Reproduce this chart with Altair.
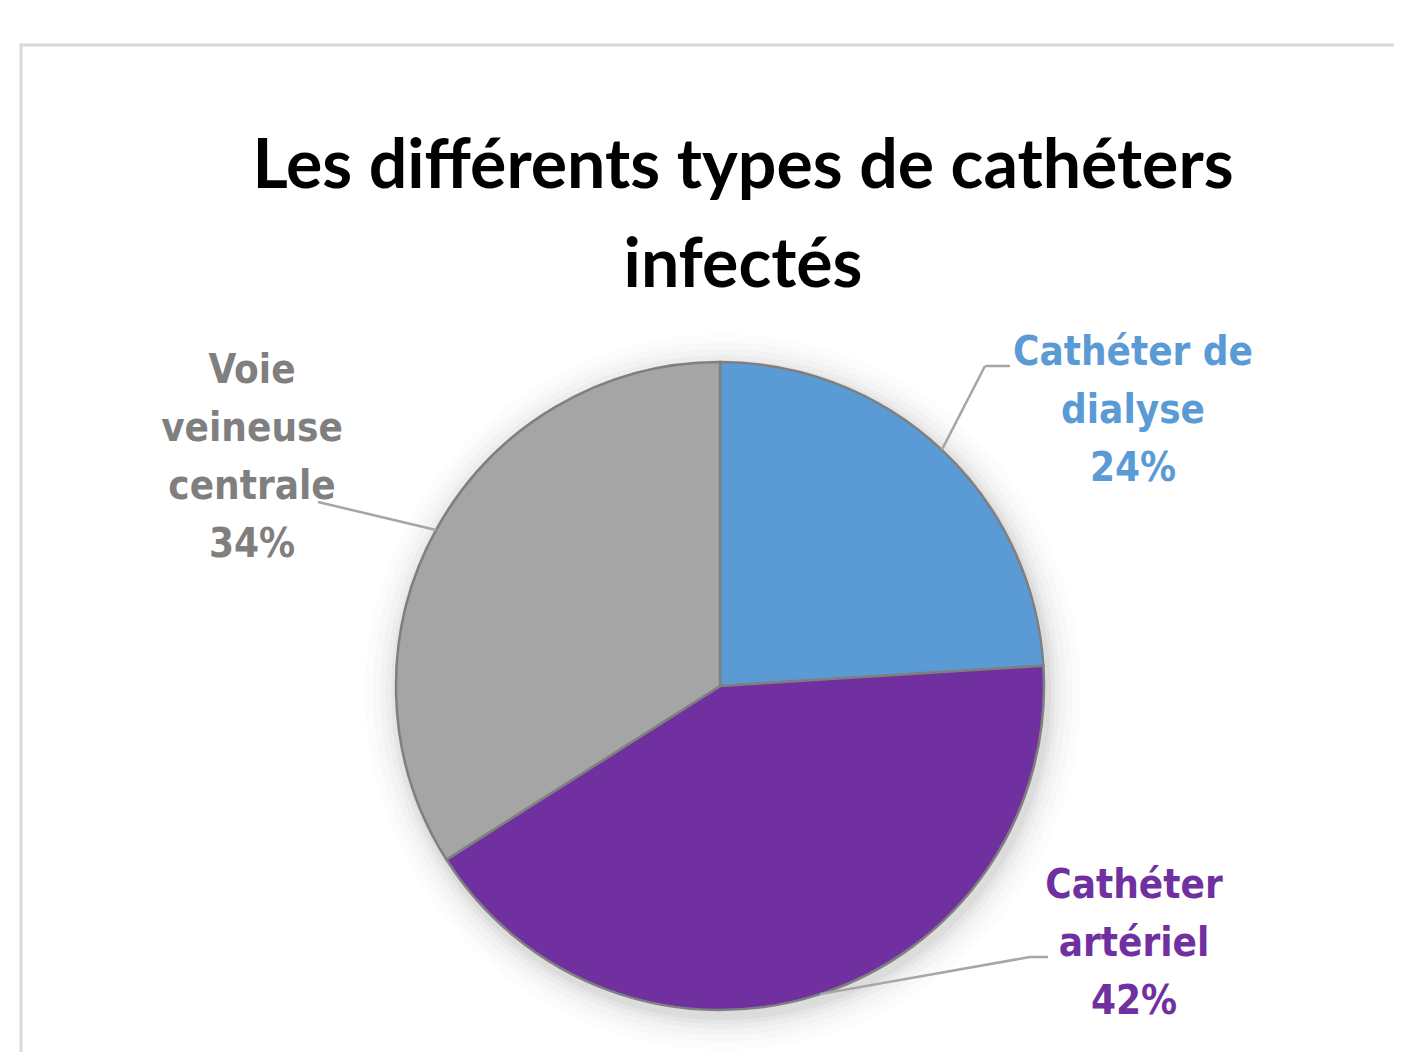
import altair as alt
import pandas as pd

# ---- data ----
categories = ["Cathéter de dialyse", "Cathéter artériel", "Voie veineuse centrale"]
values = [24, 42, 34]
label_lines = ["Cathéter de\ndialyse", "Cathéter\nartériel", "Voie\nveineuse\ncentrale"]
title_text = "Les différents types de cathéters\ninfectés"

# ---- styles ----
slice_colors = ["#5B9BD5", "#7030A0", "#A5A5A5"]
label_colors = ["#5B9BD5", "#7030A0", "#7F7F7F"]
TITLE_FONT = "Lato, DejaVu Sans Condensed, sans-serif"
LABEL_FONT = "DejaVu Sans Condensed, Tahoma, Noto Sans, sans-serif"

# ---- layout (pixels, relative to the pie centre) ----
CX, CY, R = 712, 678, 324
W, H = 1386, 1044
label_off = {"Cathéter de dialyse": (413, -321), "Cathéter artériel": (414, 212), "Voie veineuse centrale": (-468, -303)}
elbow_off = {"Cathéter de dialyse": (265, -320), "Cathéter artériel": (310, 271), "Voie veineuse centrale": (-402, -184)}
end_off = {"Cathéter de dialyse": (290, -320), "Cathéter artériel": (328, 271), "Voie veineuse centrale": (-402, -184)}

df = pd.DataFrame({
    "categorie": categories,
    "valeur": values,
    "ordre": list(range(len(categories))),
    "lignes": label_lines,
})
df["lx"] = [CX + label_off[c][0] for c in categories]
df["ly"] = [CY + label_off[c][1] for c in categories]
df["bx"] = [CX + elbow_off[c][0] for c in categories]
df["by"] = [CY + elbow_off[c][1] for c in categories]
df["nx"] = [CX + end_off[c][0] for c in categories]
df["ny"] = [CY + end_off[c][1] for c in categories]

base = (
    alt.Chart(df)
    .transform_joinaggregate(total="sum(valeur)")
    .transform_window(cum="sum(valeur)", sort=[alt.SortField("ordre")], frame=[None, 0])
    .transform_calculate(
        mid="(datum.cum - datum.valeur / 2) / datum.total * 2 * PI",
        ex=f"{CX} + {R} * sin(datum.mid)",
        ey=f"{CY} - {R} * cos(datum.mid)",
        texte="datum.lignes + '\\n' + format(datum.valeur / datum.total, '.0%')",
    )
)

# frame of the chart area
frame_top = alt.Chart(alt.Data(values=[{"k": 1}])).mark_rule(color="#D9D9D9", strokeWidth=3).encode(
    x=alt.value(11.5), x2=alt.value(W), y=alt.value(37)
)
frame_left = alt.Chart(alt.Data(values=[{"k": 1}])).mark_rule(color="#D9D9D9", strokeWidth=3).encode(
    x=alt.value(13), y=alt.value(35.5), y2=alt.value(H)
)

# soft glow around the pie
shadows = []
for k, op in [(34, 0.012), (26, 0.016), (19, 0.02), (13, 0.025), (8, 0.03), (4, 0.035)]:
    shadows.append(
        alt.Chart(alt.Data(values=[{"k": 1}]))
        .mark_arc(theta=0, theta2=6.2832, radius=R + k, color="#000000", opacity=op)
        .encode(x=alt.value(CX + 3), y=alt.value(CY + 6))
    )

pie = base.mark_arc(radius=R, stroke="#7F7F7F", strokeWidth=2.5).encode(
    theta=alt.Theta("valeur:Q", stack=True),
    order=alt.Order("ordre:Q"),
    color=alt.Color("categorie:N", scale=alt.Scale(domain=categories, range=slice_colors), legend=None),
    x=alt.value(CX),
    y=alt.value(CY),
)

lead1 = base.mark_rule(color="#A6A6A6", strokeWidth=2.5).encode(
    x=alt.X("ex:Q", scale=None), y=alt.Y("ey:Q", scale=None),
    x2="bx:Q", y2="by:Q",
)
lead2 = base.mark_rule(color="#A6A6A6", strokeWidth=2.5).encode(
    x=alt.X("bx:Q", scale=None), y=alt.Y("by:Q", scale=None),
    x2="nx:Q", y2="ny:Q",
)

labels = base.mark_text(
    align="center", baseline="alphabetic", lineBreak="\n", lineHeight=58,
    font=LABEL_FONT, fontSize=40, fontWeight="bold",
).encode(
    x=alt.X("lx:Q", scale=None), y=alt.Y("ly:Q", scale=None),
    text="texte:N",
    color=alt.Color("categorie:N", scale=alt.Scale(domain=categories, range=label_colors), legend=None),
)

title = alt.Chart(alt.Data(values=[{"t": title_text}])).mark_text(
    align="center", baseline="alphabetic", lineBreak="\n", lineHeight=99,
    font=TITLE_FONT, fontSize=68, fontWeight="bold", color="#000000",
).encode(text="t:N", x=alt.value(735), y=alt.value(180))

chart = (
    alt.layer(frame_top, frame_left, *shadows, pie, lead1, lead2, labels, title)
    .resolve_scale(color="independent")
    .properties(width=W, height=H, autosize=alt.AutoSizeParams(type="none"), padding=0, background="#FFFFFF")
    .configure_view(stroke=None)
)

chart.save("out.html", embed_options={"renderer": "svg", "actions": False})
